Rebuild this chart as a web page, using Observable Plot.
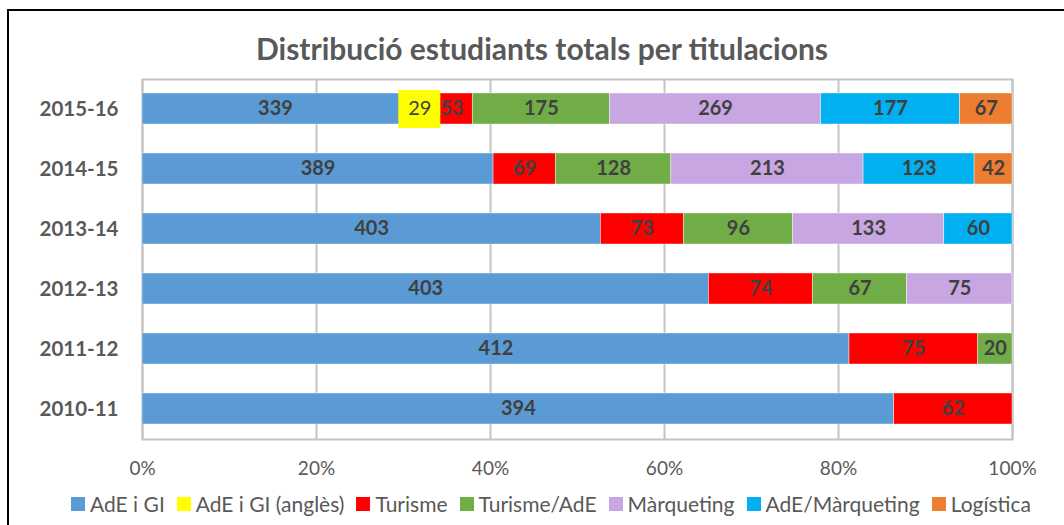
<!DOCTYPE html>
<html>
<head>
<meta charset="utf-8">
<script src="https://cdn.jsdelivr.net/npm/d3@7"></script>
<script src="https://cdn.jsdelivr.net/npm/@observablehq/plot@0.6"></script>
<style>
  html, body { margin: 0; padding: 0; background: #fff; }
  #wrap { position: relative; width: 1064px; height: 525px; overflow: hidden; font-family: Lato, "Open Sans", sans-serif; }
  #border { position: absolute; left: 7px; top: 9px; width: 1100px; height: 600px; border-left: 2.5px solid #000; border-top: 2.5px solid #000; box-sizing: border-box; }
  #title { position: absolute; left: 0; width: 1084px; top: 30px; text-align: center; font-weight: bold; font-size: 30px; color: #595959; }
  #chart { position: absolute; left: 0; top: 0; }
  #legend { position: absolute; left: 0; width: 1102px; top: 491px; display: flex; justify-content: center; gap: 12px; font-size: 21px; color: #595959; white-space: nowrap; }
  .item { display: flex; align-items: center; gap: 5px; }
  .sw { width: 14px; height: 14px; display: inline-block; }
</style>
</head>
<body>
<div id="wrap">
  <div id="border"></div>
  <div id="chart"></div>
  <div id="title">Distribució estudiants totals per titulacions</div>
  <div id="legend"></div>
</div>
<script>
const years = ["2015-16", "2014-15", "2013-14", "2012-13", "2011-12", "2010-11"];
const categories = ["AdE i GI", "AdE i GI (anglès)", "Turisme", "Turisme/AdE", "Màrqueting", "AdE/Màrqueting", "Logística"];
const colors = ["#5B9BD5", "#FFFF00", "#FF0000", "#70AD47", "#C8A6E2", "#00B0F0", "#ED7D31"];
// values per category, in the order of years above
const adeGI        = [339, 389, 403, 403, 412, 394];
const adeGIangles  = [29, 0, 0, 0, 0, 0];
const turisme      = [53, 69, 73, 74, 75, 62];
const turismeAdE   = [175, 128, 96, 67, 20, 0];
const marqueting   = [269, 213, 133, 75, 0, 0];
const adeMarqueting= [177, 123, 60, 0, 0, 0];
const logistica    = [67, 42, 0, 0, 0, 0];
const tickValues = [0, 0.2, 0.4, 0.6, 0.8, 1];

const series = [adeGI, adeGIangles, turisme, turismeAdE, marqueting, adeMarqueting, logistica];
const data = [];
years.forEach((y, i) => {
  categories.forEach((c, j) => {
    const v = series[j][i];
    if (v > 0) data.push({year: y, cat: c, value: v});
  });
});

const stacked = (extra) => Plot.stackX({x: "value", y: "year", z: "cat", offset: "normalize", order: categories, ...extra});
const isYellow = d => d.cat === "AdE i GI (anglès)";

const yellowStack = stacked({});
const yellowBox = {...yellowStack, x1: yellowStack.x, x2: yellowStack.x};

const plot = Plot.plot({
  width: 1064,
  height: 525,
  marginLeft: 142,
  marginRight: 52,
  marginTop: 79,
  marginBottom: 86,
  style: {fontFamily: "Lato, 'Open Sans', sans-serif", background: "transparent"},
  x: {domain: [0, 1], ticks: tickValues, tickFormat: d3.format(".0%"), tickSize: 0, tickPadding: 22, label: null},
  y: {domain: years, paddingInner: 0.48, paddingOuter: 0.24, tickSize: 0, tickPadding: 24, label: null},
  color: {domain: categories, range: colors},
  marks: [
    Plot.ruleX(tickValues, {stroke: "#c4c4c4", strokeWidth: 2}),
    Plot.frame({stroke: "#c4c4c4", strokeWidth: 2}),
    Plot.barX(data, stacked({fill: "cat", stroke: "#ffffff", strokeWidth: 0.6, strokeOpacity: 0.7})),
    Plot.barX(data, {...yellowBox, fill: "#FFFF00", insetLeft: -21, insetRight: -21, insetTop: -3, insetBottom: -4, filter: isYellow}),
    Plot.text(data, {...stacked({text: "value", fill: "#404040", fontWeight: "bold", fontSize: 20}), filter: d => !isYellow(d)}),
    Plot.text(data, {...stacked({text: "value", fill: "#404040", fontSize: 20}), filter: isYellow})
  ]
});
document.getElementById("chart").appendChild(plot);

// axis styling
plot.querySelectorAll("[aria-label='y-axis tick label']").forEach(g => {
  g.setAttribute("font-weight", "bold");
  g.setAttribute("font-size", "20.5");
  g.setAttribute("fill", "#595959");
});
plot.querySelectorAll("[aria-label='x-axis tick label']").forEach(g => {
  g.setAttribute("font-size", "19");
  g.setAttribute("fill", "#595959");
});

const legend = document.getElementById("legend");
categories.forEach((c, i) => {
  const it = document.createElement("div");
  it.className = "item";
  const sw = document.createElement("span");
  sw.className = "sw";
  sw.style.background = colors[i];
  const tx = document.createElement("span");
  tx.textContent = c;
  it.appendChild(sw);
  it.appendChild(tx);
  legend.appendChild(it);
});
</script>
</body>
</html>
